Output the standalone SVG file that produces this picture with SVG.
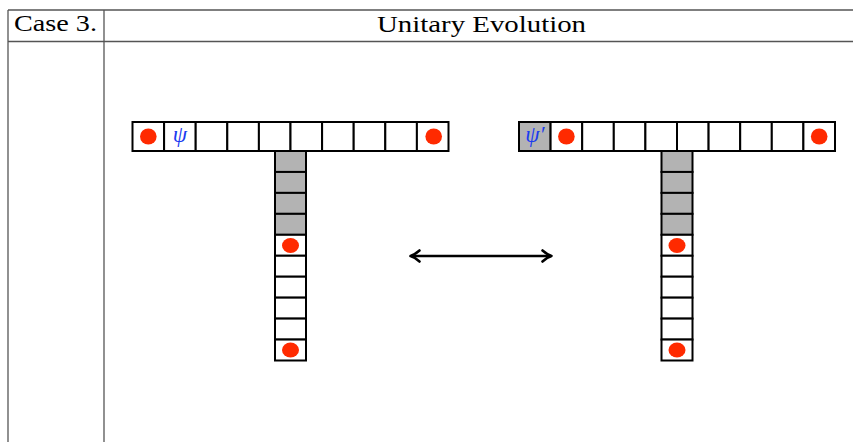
<svg xmlns="http://www.w3.org/2000/svg" width="853" height="442" viewBox="0 0 853 442">
<style>
.tbl{stroke:#555;stroke-width:1.3;fill:none}
.cell{fill:#fff;stroke:#000;stroke-width:2}
.gray{fill:#b3b3b3;stroke:#000;stroke-width:2}
.dot{fill:#ff2a00}
.hdr{font-family:"Liberation Serif","DejaVu Serif",serif;font-size:24px;fill:#000}
.psi{font-family:"Liberation Serif","DejaVu Serif",serif;font-style:italic;font-size:23px;fill:#1a3cf0}
.arr{stroke:#000;stroke-width:2.6;fill:none}
</style>
<defs>
<marker id="head" markerWidth="16" markerHeight="16" refX="0" refY="0" viewBox="-10 -8 16 16" orient="auto-start-reverse" markerUnits="userSpaceOnUse">
<path d="M-8,-5.5 Q-3,-1.2 1,0 Q-3,1.2 -8,5.5" fill="none" stroke="#000" stroke-width="2.6" stroke-linecap="round" stroke-linejoin="round"/>
</marker>
</defs>
<rect width="853" height="442" fill="#fff"/>
<g id="table">
<line class="tbl" x1="8" y1="10" x2="853" y2="10"/>
<line class="tbl" x1="8" y1="41.5" x2="853" y2="41.5"/>
<line class="tbl" x1="8" y1="10" x2="8" y2="442"/>
<line class="tbl" x1="104" y1="10" x2="104" y2="442"/>
<text class="hdr" x="14" y="31" textLength="83" lengthAdjust="spacingAndGlyphs">Case 3.</text>
<text class="hdr" x="377" y="31.5" textLength="209" lengthAdjust="spacingAndGlyphs">Unitary Evolution</text>
</g>
<g id="left-T">
<rect class="cell" x="132.5" y="122" width="31.6" height="29"/>
<rect class="cell" x="164.1" y="122" width="31.6" height="29"/>
<rect class="cell" x="195.7" y="122" width="31.6" height="29"/>
<rect class="cell" x="227.3" y="122" width="31.6" height="29"/>
<rect class="cell" x="258.9" y="122" width="31.6" height="29"/>
<rect class="cell" x="290.5" y="122" width="31.6" height="29"/>
<rect class="cell" x="322.1" y="122" width="31.6" height="29"/>
<rect class="cell" x="353.7" y="122" width="31.6" height="29"/>
<rect class="cell" x="385.3" y="122" width="31.6" height="29"/>
<rect class="cell" x="416.9" y="122" width="31.6" height="29"/>
<rect class="gray" x="275" y="151" width="31" height="20.95"/>
<rect class="gray" x="275" y="171.95" width="31" height="20.95"/>
<rect class="gray" x="275" y="192.9" width="31" height="20.95"/>
<rect class="gray" x="275" y="213.85" width="31" height="20.95"/>
<rect class="cell" x="275" y="234.8" width="31" height="20.95"/>
<rect class="cell" x="275" y="255.75" width="31" height="20.95"/>
<rect class="cell" x="275" y="276.7" width="31" height="20.95"/>
<rect class="cell" x="275" y="297.65" width="31" height="20.95"/>
<rect class="cell" x="275" y="318.6" width="31" height="20.95"/>
<rect class="cell" x="275" y="339.55" width="31" height="20.95"/>
<ellipse class="dot" cx="148.3" cy="136.5" rx="8.3" ry="8"/>
<ellipse class="dot" cx="433.7" cy="136.5" rx="8.3" ry="8"/>
<ellipse class="dot" cx="290.5" cy="245.5" rx="8.5" ry="7.5"/>
<ellipse class="dot" cx="290.5" cy="350" rx="8.5" ry="7.5"/>
<text class="psi" x="180" y="142" text-anchor="middle">ψ</text>
</g>
<g id="right-T">
<rect class="gray" x="519" y="122" width="31.6" height="29"/>
<rect class="cell" x="550.6" y="122" width="31.6" height="29"/>
<rect class="cell" x="582.2" y="122" width="31.6" height="29"/>
<rect class="cell" x="613.8" y="122" width="31.6" height="29"/>
<rect class="cell" x="645.4" y="122" width="31.6" height="29"/>
<rect class="cell" x="677" y="122" width="31.6" height="29"/>
<rect class="cell" x="708.6" y="122" width="31.6" height="29"/>
<rect class="cell" x="740.2" y="122" width="31.6" height="29"/>
<rect class="cell" x="771.8" y="122" width="31.6" height="29"/>
<rect class="cell" x="803.4" y="122" width="31.6" height="29"/>
<rect class="gray" x="661.5" y="151" width="31" height="20.95"/>
<rect class="gray" x="661.5" y="171.95" width="31" height="20.95"/>
<rect class="gray" x="661.5" y="192.9" width="31" height="20.95"/>
<rect class="gray" x="661.5" y="213.85" width="31" height="20.95"/>
<rect class="cell" x="661.5" y="234.8" width="31" height="20.95"/>
<rect class="cell" x="661.5" y="255.75" width="31" height="20.95"/>
<rect class="cell" x="661.5" y="276.7" width="31" height="20.95"/>
<rect class="cell" x="661.5" y="297.65" width="31" height="20.95"/>
<rect class="cell" x="661.5" y="318.6" width="31" height="20.95"/>
<rect class="cell" x="661.5" y="339.55" width="31" height="20.95"/>
<ellipse class="dot" cx="566.4" cy="136.5" rx="8.3" ry="8"/>
<ellipse class="dot" cx="819.2" cy="136.5" rx="8.3" ry="8"/>
<ellipse class="dot" cx="677" cy="245.5" rx="8.5" ry="7.5"/>
<ellipse class="dot" cx="677" cy="350" rx="8.5" ry="7.5"/>
<text class="psi" x="535" y="142" text-anchor="middle">ψ′</text>
</g>
<g id="connectors">
<line class="arr" x1="411.5" y1="256" x2="550.5" y2="256" marker-start="url(#head)" marker-end="url(#head)"/>
</g>
</svg>
